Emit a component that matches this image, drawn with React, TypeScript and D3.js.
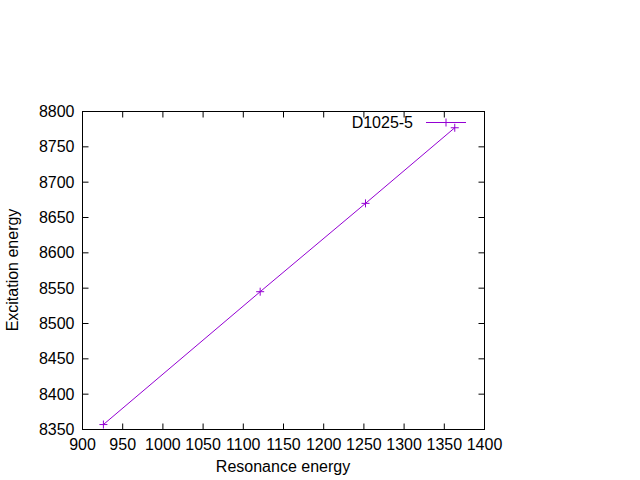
import * as d3 from "d3";

const resonance = [926, 1121, 1252, 1363];
const excitation = [8357, 8545, 8670, 8777];
const xTicks = [900, 950, 1000, 1050, 1100, 1150, 1200, 1250, 1300, 1350, 1400];
const yTicks = [8350, 8400, 8450, 8500, 8550, 8600, 8650, 8700, 8750, 8800];
const seriesName = "D1025-5";

const W = 640, H = 480;
const M = { left: 82.5, right: 484.5, top: 111.5, bottom: 429.5 };
const COLOR = "#9400d3";
const FONT = "'Liberation Sans', Arial, sans-serif";

function Plus({ x, y }: { x: number; y: number }) {
  return <path d={`M${x - 4},${y}H${x + 4}M${x},${y - 4}V${y + 4}`} stroke={COLOR} strokeWidth={1} fill="none" />;
}

export default function App() {
  const sx = d3.scaleLinear().domain([900, 1400]).range([M.left, M.right]);
  const sy = d3.scaleLinear().domain([8350, 8800]).range([M.bottom, M.top]);
  const pts = resonance.map((r, i) => [sx(r), sy(excitation[i])] as [number, number]);
  const line = d3.line()(pts) ?? "";
  return (
    <svg width={W} height={H} style={{ position: "absolute", left: 0, top: 0, background: "#fff" }} fontFamily={FONT}>
      {yTicks.map(t => (
        <g key={t}>
          <line x1={M.left} x2={M.left + 6} y1={sy(t)} y2={sy(t)} stroke="#000" />
          <line x1={M.right} x2={M.right - 6} y1={sy(t)} y2={sy(t)} stroke="#000" />
          <text x={M.left - 8} y={sy(t)} textAnchor="end" dominantBaseline="central" fontSize={16}>{t}</text>
        </g>
      ))}
      {xTicks.map(t => (
        <g key={t}>
          <line x1={sx(t)} x2={sx(t)} y1={M.bottom} y2={M.bottom - 6} stroke="#000" />
          <line x1={sx(t)} x2={sx(t)} y1={M.top} y2={M.top + 6} stroke="#000" />
          <text x={sx(t)} y={M.bottom + 20} textAnchor="middle" fontSize={16}>{t}</text>
        </g>
      ))}
      <rect x={M.left} y={M.top} width={M.right - M.left} height={M.bottom - M.top} fill="none" stroke="#000" />
      <path d={line} stroke={COLOR} fill="none" strokeWidth={1} />
      {pts.map(([x, y], i) => <Plus key={i} x={x} y={y} />)}
      <text x={413} y={122} textAnchor="end" dominantBaseline="central" fontSize={16}>{seriesName}</text>
      <line x1={426} x2={466} y1={122.5} y2={122.5} stroke={COLOR} />
      <Plus x={446} y={122.5} />
      <text x={283} y={472} textAnchor="middle" fontSize={16}>Resonance energy</text>
      <text transform={`translate(18,270) rotate(-90)`} textAnchor="middle" fontSize={16}>Excitation energy</text>
    </svg>
  );
}
